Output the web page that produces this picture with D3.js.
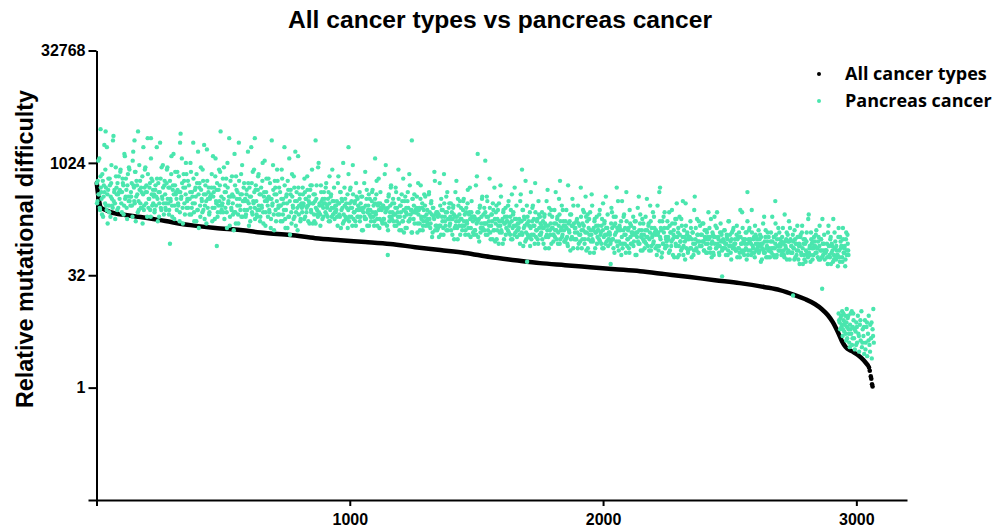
<!DOCTYPE html>
<html>
<head>
<meta charset="utf-8">
<script src="https://cdn.jsdelivr.net/npm/d3@7"></script>
<style>
  body { margin: 0; background: #fff; }
  .chart text { font-family: "Liberation Sans", Arial, sans-serif; font-weight: bold; fill: #000; }
  .axis path, .axis line { stroke: #000; stroke-width: 2px; }
  .axis text { font-size: 16px; }
</style>
</head>
<body>
<div class="chart"></div>
<script>
// all cancer types: rank -> log2(relative mutational difficulty)
var allRanks = [1,4,8,12,16,36,55,114,174,272,371,469,568,667,765,864,963,1061,1160,1258,1357,1456,1554,1653,1751,1850,1949,2047,2146,2245,2343,2442,2540,2639,2698,2757,2797,2836,2864,2887,2907,2927,2943,2958,2982,3006,3029,3045];
var allLog2 = [9.1,8.8,8.45,8.2,8.03,7.9,7.81,7.68,7.59,7.41,7.23,7.1,7.01,6.88,6.79,6.65,6.56,6.48,6.39,6.25,6.12,5.99,5.81,5.67,5.54,5.45,5.36,5.27,5.18,5.05,4.92,4.78,4.65,4.47,4.34,4.12,3.94,3.72,3.49,3.23,2.91,2.47,2.07,1.8,1.62,1.45,1.22,1.0];
var allTail = [[3050,0.9],[3053,0.75],[3057,0.5],[3059,0.4],[3062,0.15],[3064,0.05]];

// pancreas cancer (log2 values), every third rank: one list from rank 1, one from rank 2
var pancreasEvery = 3;
var pancreasFromRank1 = [
9.1,8.3,10.1,8.6,8.0,9.4,8.7,7.7,9.2,8.5,10.8,8.2,8.9,7.9,8.6,
8.8,8.1,9.3,7.6,9.1,8.4,8.0,11.2,8.7,8.2,9.8,8.9,7.9,8.6,9.4,
8.4,9.6,8.7,7.8,9.3,9.0,8.1,10.3,8.5,8.8,7.5,9.5,8.3,9.7,8.5,
8.7,9.1,7.6,10.5,8.9,8.2,9.6,8.5,9.0,7.8,8.3,9.9,9.2,8.0,8.7,
9.4,8.6,7.9,8.9,9.8,8.2,8.7,11.1,8.0,8.4,9.1,7.6,9.3,8.1,8.8,
8.5,7.8,8.8,8.1,10.7,8.4,9.1,7.6,8.7,9.3,7.9,8.5,9.9,8.2,9.0,
8.6,7.9,9.1,9.8,8.2,7.7,8.9,8.4,9.5,8.1,8.8,10.4,7.5,9.0,8.6,
8.4,9.6,8.2,9.4,7.4,8.7,8.4,10.2,8.0,8.9,9.2,7.7,8.6,9.5,8.3,
9.2,8.4,7.7,8.7,9.6,8.0,8.5,10.9,7.8,8.2,8.9,7.4,9.1,7.9,8.6,
8.9,8.1,9.8,8.4,7.8,9.2,8.6,7.5,9.0,8.3,10.6,8.0,8.7,7.7,8.4,
8.5,8.9,7.4,10.3,8.7,8.0,9.4,8.3,8.8,7.6,8.1,9.7,9.0,7.8,8.5,
8.1,9.3,8.4,7.5,9.0,8.7,7.8,10.0,8.2,8.5,7.2,9.2,8.0,9.4,8.2,
8.5,7.8,9.0,7.3,8.8,8.1,7.7,10.9,8.4,7.9,9.5,8.6,7.6,8.3,9.1,
8.3,7.6,8.6,7.9,10.5,8.2,8.9,7.4,8.5,9.1,7.7,8.3,9.7,8.0,8.8,
8.3,7.6,8.8,9.5,7.9,7.4,8.6,8.1,9.2,7.8,8.5,10.1,7.2,8.7,8.3,
8.1,9.3,7.9,9.1,7.1,8.4,8.1,9.9,7.7,8.6,8.9,7.4,8.3,9.2,8.0,
8.9,8.1,7.4,8.4,9.3,7.7,8.2,10.7,7.5,7.9,8.6,7.1,8.8,7.6,8.3,
8.6,7.8,9.5,8.1,7.5,8.9,8.3,7.2,8.7,8.0,10.3,7.7,8.4,7.4,8.1,
8.0,8.9,8.2,7.5,8.7,8.4,7.8,9.4,8.1,8.3,7.3,8.8,7.9,9.0,8.2,
8.2,7.7,8.6,7.3,8.4,7.9,7.6,10.0,8.1,7.7,9.0,8.3,7.5,8.0,8.7,
8.4,7.8,9.1,8.0,7.6,8.7,8.2,7.4,8.5,8.0,9.7,7.7,8.3,7.5,8.1,
8.1,8.3,7.2,9.4,8.2,7.6,8.7,7.9,8.3,7.3,7.7,8.9,8.4,7.5,8.0,
8.6,7.9,7.4,8.2,8.9,7.6,8.0,9.9,7.5,7.8,8.3,7.2,8.5,7.6,8.1,
7.9,8.7,7.6,8.5,7.0,8.0,7.8,9.1,7.5,8.1,8.4,7.2,7.9,8.6,7.7,
7.9,7.4,8.3,8.8,7.6,7.2,8.2,7.8,8.6,7.5,8.1,9.3,7.1,8.2,8.0,
7.9,7.3,8.1,7.5,9.5,7.8,8.3,7.2,8.0,8.5,7.4,7.8,8.9,7.6,8.2,
8.4,7.7,7.2,8.0,8.7,7.4,7.8,9.7,7.3,7.6,8.1,7.0,8.3,7.4,7.9,
7.6,8.5,7.8,7.1,8.3,8.0,7.4,9.0,7.7,7.9,6.9,8.4,7.5,8.6,7.8,
7.8,8.0,6.9,9.1,7.9,7.3,8.4,7.6,8.0,7.0,7.4,8.6,8.1,7.2,7.7,
7.9,7.3,8.6,7.5,7.1,8.2,7.7,6.9,8.0,7.5,9.2,7.2,7.8,7.0,7.6,
7.7,7.2,8.1,6.8,7.9,7.4,7.1,9.5,7.6,7.2,8.5,7.8,7.0,7.5,8.2,
7.3,8.2,7.5,6.8,8.0,7.7,7.1,8.7,7.4,7.6,6.6,8.1,7.2,8.3,7.5,
7.5,7.0,7.9,8.4,7.2,6.8,7.8,7.4,8.2,7.1,7.7,8.9,6.7,7.8,7.6,
7.4,6.8,7.6,7.0,9.0,7.3,7.8,6.7,7.5,8.0,6.9,7.3,8.4,7.1,7.7,
8.0,7.3,6.8,7.6,8.3,7.0,7.4,9.3,6.9,7.2,7.7,6.6,7.9,7.0,7.5,
7.3,8.1,7.0,7.9,6.4,7.4,7.2,8.5,6.9,7.5,7.8,6.6,7.3,8.0,7.1,
7.6,7.0,8.3,7.2,6.8,7.9,7.4,6.6,7.7,7.2,8.9,6.9,7.5,6.7,7.3,
7.3,7.5,6.4,8.6,7.4,6.8,7.9,7.1,7.5,6.5,6.9,8.1,7.6,6.7,7.2,
7.8,7.1,6.6,7.4,8.1,6.8,7.2,9.1,6.7,7.0,7.5,6.4,7.7,6.8,7.3,
6.9,7.8,7.1,6.4,7.6,7.3,6.7,8.3,7.0,7.2,6.2,7.7,6.8,7.9,7.1,
7.1,6.5,7.3,6.7,8.7,7.0,7.5,6.4,7.2,7.7,6.6,7.0,8.1,6.8,7.4,
7.0,6.5,7.4,7.9,6.7,6.3,7.3,6.9,7.7,6.6,7.2,8.4,6.2,7.3,7.1,
7.1,6.6,7.5,6.2,7.3,6.8,6.5,8.9,7.0,6.6,7.9,7.2,6.4,6.9,7.6,
6.9,7.7,6.6,7.5,6.0,7.0,6.8,8.1,6.5,7.1,7.4,6.2,6.9,7.6,6.7,
7.2,6.6,7.9,6.8,6.4,7.5,7.0,6.2,7.3,6.8,8.5,6.5,7.1,6.3,6.9,
6.9,6.4,7.3,7.8,6.6,6.2,7.2,6.8,7.6,6.5,7.1,8.3,6.1,7.2,7.0,
7.4,6.7,6.2,7.0,7.7,6.4,6.8,8.7,6.3,6.6,7.1,6.0,7.3,6.4,6.9,
6.8,7.6,6.5,7.4,5.9,6.9,6.7,8.0,6.4,7.0,7.3,6.1,6.8,7.5,6.6,
6.8,6.2,7.0,6.4,8.4,6.7,7.2,6.1,6.9,7.4,6.3,6.7,7.8,6.5,7.1,
6.8,7.0,5.9,8.1,6.9,6.3,7.4,6.6,7.0,6.0,6.4,7.6,7.1,6.2,6.7,
6.5,7.4,6.7,6.0,7.2,6.9,6.3,7.9,6.6,6.8,5.8,7.3,6.4,7.5,6.7,
6.9,6.3,7.6,6.5,6.1,7.2,6.7,5.9,7.0,6.5,8.2,6.2,6.8,6.0,6.6,
6.7,6.2,7.1,5.8,6.9,6.4,6.1,8.5,6.6,6.2,7.5,6.8,6.0,6.5,7.2,
6.8,6.3,7.3,6.5,6.1,7.0,6.6,6.0,6.9,6.4,7.8,6.2,6.7,6.0,6.4,
6.5,6.8,5.9,7.6,6.7,6.2,7.1,6.4,6.7,6.0,6.3,7.3,6.9,6.1,6.5,
6.2,7.0,6.4,5.9,6.8,6.6,6.1,7.4,6.3,6.5,5.7,6.9,6.2,7.1,6.4,
6.6,6.1,6.8,5.8,6.7,6.2,6.0,7.9,6.4,6.1,7.1,6.6,5.9,6.4,6.9,
6.9,6.4,5.9,6.6,7.1,6.1,6.4,7.9,6.0,6.2,6.7,5.8,6.8,6.1,6.6,
6.3,7.0,6.1,6.8,5.6,6.4,6.2,7.3,6.0,6.5,6.7,5.8,6.3,6.9,6.1,
6.2,5.8,6.5,6.0,7.6,6.2,6.7,5.8,6.4,6.8,5.9,6.3,7.1,6.1,6.6,
6.3,5.9,6.7,7.1,6.1,5.8,6.5,6.2,6.9,6.0,6.5,7.4,5.7,6.6,6.3,
6.0,6.8,6.2,5.7,6.6,6.4,5.9,7.2,6.1,6.3,5.5,6.7,6.0,6.9,6.2,
6.4,5.9,6.6,5.6,6.5,6.0,5.8,7.7,6.2,5.9,6.9,6.4,5.7,6.2,6.7,
6.5,6.0,7.0,6.2,5.8,6.7,6.3,5.7,6.6,6.1,7.5,5.9,6.4,5.7,6.1,
6.1,6.4,5.5,7.2,6.3,5.8,6.7,6.0,6.3,5.6,5.9,6.9,6.5,5.7,6.1,
5.9,6.7,6.1,5.6,6.5,6.3,5.8,7.1,6.0,6.2,5.4,6.6,5.9,6.8,6.1
];
var pancreasFromRank2 = [
8.2,9.2,8.6,10.2,7.9,8.9,8.4,9.5,7.6,9.0,8.7,9.7,8.1,10.7,7.3,
9.3,7.8,9.0,8.5,9.9,8.1,11.0,8.3,8.8,7.5,9.4,8.6,9.1,8.0,8.7,
8.8,9.7,8.2,8.7,9.1,7.7,10.4,8.4,9.3,8.0,9.0,8.5,9.8,8.3,8.1,
8.5,8.1,10.1,9.0,8.3,9.6,7.4,9.2,8.6,11.4,7.9,8.8,8.2,8.9,8.0,
7.3,10.7,8.1,9.7,8.7,9.0,7.6,9.5,8.4,8.9,7.9,10.2,8.6,9.2,8.2,
8.6,7.9,9.0,8.5,9.3,7.4,8.7,8.2,10.9,8.0,9.8,8.4,8.9,7.7,9.2,
8.0,8.2,9.7,8.4,8.9,7.9,9.2,8.3,10.3,7.6,9.0,8.6,8.1,9.6,8.7,
7.9,8.8,8.1,8.7,7.8,11.3,8.5,9.1,7.3,9.5,8.2,8.9,10.0,8.0,8.4,
8.0,9.0,8.4,10.0,7.7,8.7,8.2,9.3,7.4,8.8,8.5,9.5,7.9,10.5,7.1,
9.1,7.6,8.8,8.3,9.7,7.9,10.8,8.1,8.6,7.3,9.2,8.4,8.9,7.8,8.5,
8.6,9.5,8.0,8.5,8.9,7.5,10.2,8.2,9.1,7.8,8.8,8.3,9.6,8.1,7.9,
8.2,7.8,9.8,8.7,8.0,9.3,7.1,8.9,8.3,11.1,7.6,8.5,7.9,8.6,7.7,
7.0,10.4,7.8,9.4,8.4,8.7,7.3,9.2,8.1,8.6,7.6,9.9,8.3,8.9,7.9,
8.4,7.7,8.8,8.3,9.1,7.2,8.5,8.0,10.7,7.8,9.6,8.2,8.7,7.5,9.0,
7.7,7.9,9.4,8.1,8.6,7.6,8.9,8.0,10.0,7.3,8.7,8.3,7.8,9.3,8.4,
7.6,8.5,7.8,8.4,7.5,11.0,8.2,8.8,7.0,9.2,7.9,8.6,9.7,7.7,8.1,
7.7,8.7,8.1,9.7,7.4,8.4,7.9,9.0,7.1,8.5,8.2,9.2,7.6,10.2,6.8,
8.8,7.3,8.5,8.0,9.4,7.6,10.5,7.8,8.3,7.0,8.9,8.1,8.6,7.5,8.2,
7.8,8.6,8.1,9.3,7.6,8.4,8.0,8.8,7.4,8.5,8.2,9.0,7.8,9.7,7.3,
8.6,7.4,8.3,8.0,9.0,7.7,9.8,7.8,8.2,7.2,8.7,8.1,8.4,7.6,8.2,
8.2,8.9,7.7,8.1,8.4,7.4,9.4,7.9,8.6,7.6,8.3,8.0,8.9,7.8,7.8,
7.9,7.6,9.1,8.2,7.7,8.7,7.1,8.4,8.0,10.0,7.4,8.1,7.6,8.2,7.5,
7.1,9.5,7.6,8.8,8.0,8.3,7.2,8.6,7.8,8.2,7.4,9.1,7.9,8.4,7.6,
8.0,7.4,8.2,7.9,8.5,7.0,8.0,7.6,9.6,7.5,8.8,7.8,8.1,7.2,8.4,
7.6,7.6,8.7,7.8,8.1,7.4,8.4,7.7,9.2,7.2,8.2,7.9,7.5,8.7,8.0,
7.4,8.1,7.5,8.0,7.3,9.9,7.9,8.3,7.0,8.6,7.6,8.1,9.0,7.5,7.8,
7.4,8.2,7.7,8.9,7.2,8.0,7.6,8.4,7.0,8.1,7.8,8.6,7.4,9.3,6.9,
8.3,7.1,8.0,7.7,8.7,7.4,9.5,7.5,7.9,6.9,8.4,7.8,8.1,7.3,7.9,
7.8,8.5,7.3,7.7,8.0,7.0,9.0,7.5,8.2,7.2,7.9,7.6,8.5,7.4,7.4,
7.5,7.2,8.7,7.8,7.3,8.3,6.7,8.0,7.6,9.6,7.0,7.7,7.2,7.8,7.1,
6.7,9.1,7.2,8.4,7.6,7.9,6.8,8.2,7.4,7.8,7.0,8.7,7.5,8.0,7.2,
7.6,7.0,7.8,7.5,8.1,6.6,7.6,7.2,9.2,7.1,8.4,7.4,7.7,6.8,8.0,
7.2,7.2,8.3,7.4,7.7,7.0,8.0,7.3,8.8,6.8,7.8,7.5,7.1,8.3,7.6,
6.9,7.6,7.0,7.5,6.8,9.4,7.4,7.8,6.5,8.1,7.1,7.6,8.5,7.0,7.3,
7.0,7.8,7.3,8.5,6.8,7.6,7.2,8.0,6.6,7.7,7.4,8.2,7.0,8.9,6.5,
7.8,6.6,7.5,7.2,8.2,6.9,9.0,7.0,7.4,6.4,7.9,7.3,7.6,6.8,7.4,
7.4,8.1,6.9,7.3,7.6,6.6,8.6,7.1,7.8,6.8,7.5,7.2,8.1,7.0,7.0,
7.1,6.8,8.3,7.4,6.9,7.9,6.3,7.6,7.2,9.2,6.6,7.3,6.8,7.4,6.7,
6.3,8.7,6.8,8.0,7.2,7.5,6.4,7.8,7.0,7.4,6.6,8.3,7.1,7.6,6.8,
7.2,6.6,7.4,7.1,7.7,6.2,7.2,6.8,8.8,6.7,8.0,7.0,7.3,6.4,7.6,
6.8,6.8,7.9,7.0,7.3,6.6,7.6,6.9,8.4,6.4,7.4,7.1,6.7,7.9,7.2,
6.5,7.2,6.6,7.1,6.4,9.0,7.0,7.4,6.1,7.7,6.7,7.2,8.1,6.6,6.9,
6.6,7.4,6.9,8.1,6.4,7.2,6.8,7.6,6.2,7.3,7.0,7.8,6.6,8.5,6.1,
7.4,6.2,7.1,6.8,7.8,6.5,8.6,6.6,7.0,6.0,7.5,6.9,7.2,6.4,7.0,
7.0,7.7,6.5,6.9,7.2,6.2,8.2,6.7,7.4,6.4,7.1,6.8,7.7,6.6,6.6,
6.8,6.5,8.0,7.1,6.6,7.6,6.0,7.3,6.9,8.9,6.3,7.0,6.5,7.1,6.4,
5.9,8.3,6.4,7.6,6.8,7.1,6.0,7.4,6.6,7.0,6.2,7.9,6.7,7.2,6.4,
6.9,6.3,7.1,6.8,7.4,5.9,6.9,6.5,8.5,6.4,7.7,6.7,7.0,6.1,7.3,
6.5,6.5,7.6,6.7,7.0,6.3,7.3,6.6,8.1,6.1,7.1,6.8,6.4,7.6,6.9,
6.2,6.9,6.3,6.8,6.1,8.7,6.7,7.1,5.8,7.4,6.4,6.9,7.8,6.3,6.6,
6.3,7.1,6.6,7.8,6.1,6.9,6.5,7.3,5.9,7.0,6.7,7.5,6.3,8.2,5.8,
7.1,5.9,6.8,6.5,7.5,6.2,8.3,6.3,6.7,5.7,7.2,6.6,6.9,6.1,6.7,
6.7,7.4,6.2,6.6,6.9,5.9,7.9,6.4,7.1,6.1,6.8,6.5,7.4,6.3,6.3,
6.3,6.8,6.5,7.3,6.1,6.7,6.4,7.0,6.0,6.7,6.6,7.1,6.2,7.5,5.8,
6.9,6.0,6.7,6.4,7.2,6.2,7.8,6.3,6.6,5.9,6.9,6.5,6.8,6.2,6.6,
6.5,7.0,6.2,6.4,6.7,5.9,7.4,6.3,6.8,6.0,6.6,6.3,7.0,6.2,6.2,
6.4,6.1,7.2,6.6,6.2,6.9,5.8,6.7,6.4,7.8,6.0,6.5,6.1,6.6,6.2,
5.7,7.4,6.1,7.0,6.5,6.6,5.9,6.9,6.3,6.6,6.0,7.2,6.4,6.7,6.2,
6.4,6.0,6.6,6.3,6.7,5.7,6.4,6.1,7.6,6.0,7.0,6.2,6.5,5.8,6.7,
6.1,6.1,6.9,6.2,6.5,5.9,6.7,6.2,7.3,5.8,6.6,6.3,6.1,6.9,6.4,
6.1,6.5,6.0,6.4,5.9,7.7,6.3,6.6,5.7,6.8,6.1,6.5,7.1,6.0,6.3,
6.0,6.5,6.2,7.0,5.8,6.4,6.1,6.7,5.7,6.4,6.3,6.8,5.9,7.2,5.5,
6.6,5.7,6.4,6.1,6.9,5.9,7.5,6.0,6.3,5.6,6.6,6.2,6.5,5.9,6.3,
6.3,6.8,6.0,6.2,6.5,5.7,7.2,6.1,6.6,5.8,6.4,6.1,6.8,6.0,6.0,
6.1,5.8,6.9,6.3,5.9,6.6,5.5,6.4,6.1,7.5,5.7,6.2,5.8,6.3,5.9,
5.4,7.1,5.8,6.7,6.2,6.3,5.6,6.6,6.0,6.3,5.7,6.9,6.1,6.4,5.9
];
// pancreas points far from the main band: [rank, log2]
var pancreasOutliers = [[16,11.5],[36,11.4],[150,11.0],[215,11.1],[330,10.9],[490,11.4],[625,11.1],[865,11.0],[995,10.7],[1100,10.2],[1245,11.0],[1505,10.4],[1535,10.1],[1680,9.7],[1830,9.2],[2225,8.9],[2570,8.7],[2680,8.3],
  [290,6.4],[475,6.3],[1150,5.9],[1700,5.6],[2030,5.5],[2470,4.95],[2750,4.1],[2865,4.4]];
// pancreas cluster at the low end of the ranking: [rank, log2]
var pancreasTail = [[2930,3.3],[2932,3.0],[2934,2.9],[2936,2.6],[2938,3.1],[2940,3.2],[2941,2.7],[2943,2.8],[2944,3.4],[2946,2.3],[2947,2.6],[2949,3.3],[2950,3.0],[2952,2.5],[2953,2.8],[2955,2.9],[2956,3.2],[2958,2.4],[2960,2.1],[2961,2.9],[2962,3.5],[2963,2.7],[2964,2.2],[2966,3.1],[2968,3.2],[2969,2.6],[2971,2.4],[2972,2.0],[2974,1.8],[2975,2.8],[2977,2.6],[2978,3.3],[2980,2.4],[2982,3.4],[2983,1.9],[2985,2.2],[2986,2.7],[2988,3.3],[2989,3.0],[2991,2.2],[2993,2.6],[2994,1.7],[2997,2.5],[2999,1.9],[3000,2.9],[3002,2.7],[3003,2.0],[3006,3.2],[3008,2.4],[3010,2.3],[3011,1.6],[3014,2.8],[3016,3.0],[3017,2.1],[3020,3.4],[3022,1.8],[3024,2.0],[3025,2.6],[3028,2.3],[3030,2.7],[3031,1.5],[3034,3.0],[3036,1.7],[3037,2.0],[3040,2.7],[3042,2.9],[3043,1.4],[3046,2.4],[3048,2.1],[3049,3.2],[3052,1.9],[3054,1.6],[3055,2.8],[3058,2.2],[3060,2.9],[3061,1.3],[3064,2.6],[3066,2.3],[3067,3.5],[3069,2.0]];

var xTicks = [0, 1000, 2000, 3000];
var xTickLabels = ["", "1000", "2000", "3000"];
var yTicks = [-5, 0, 5, 10, 15];
var yTickLabels = ["", "1", "32", "1024", "32768"];

var green = "#4ae6ae";

var svg = d3.select(".chart")
            .append("svg")
            .attr("width", 997)
            .attr("height", 531);

var x = d3.scaleLinear().domain([0, 3200]).range([96.5, 907]);
var y = d3.scaleLog().base(2).domain([Math.pow(2, -5), Math.pow(2, 15)]).range([500, 50.5]);

svg.append("g")
    .attr("class", "axis")
    .attr("transform", "translate(0,500)")
    .call(d3.axisBottom(x).tickValues(xTicks).tickSize(6).tickSizeOuter(0).tickPadding(8)
        .tickFormat(function(d, i) { return xTickLabels[i]; }));

svg.append("g")
    .attr("class", "axis")
    .attr("transform", "translate(96.5,0)")
    .call(d3.axisLeft(y).tickValues(yTicks.map(function(k) { return Math.pow(2, k); }))
        .tickSize(8).tickSizeOuter(0).tickPadding(3)
        .tickFormat(function(d, i) { return yTickLabels[i]; }));

// all cancer types
var allPoints = allRanks.map(function(r, i) { return [r, allLog2[i]]; });
svg.append("path")
    .datum(allPoints)
    .attr("fill", "none")
    .attr("stroke", "#000")
    .attr("stroke-width", 4.5)
    .attr("stroke-linecap", "round")
    .attr("d", d3.line()
        .curve(d3.curveMonotoneX)
        .x(function(d) { return x(d[0]); })
        .y(function(d) { return y(Math.pow(2, d[1])); }));

svg.selectAll("circle.tail")
    .data(allTail)
  .enter()
    .append("circle")
    .attr("class", "tail")
    .attr("cx", function(d) { return x(d[0]); })
    .attr("cy", function(d) { return y(Math.pow(2, d[1])); })
    .attr("r", 2.3)
    .style("fill", "#000");

// pancreas cancer
var pancreasPoints = pancreasFromRank1.map(function(v, i) { return [1 + i * pancreasEvery, v]; })
    .concat(pancreasFromRank2.map(function(v, i) { return [2 + i * pancreasEvery, v]; }))
    .concat(pancreasOutliers, pancreasTail);

svg.selectAll("circle.panc")
    .data(pancreasPoints)
  .enter()
    .append("circle")
    .attr("class", "panc")
    .attr("cx", function(d) { return x(d[0]); })
    .attr("cy", function(d) { return y(Math.pow(2, d[1])); })
    .attr("r", 2.2)
    .style("fill", green);

// title and y label
svg.append("text")
    .attr("x", 500)
    .attr("y", 28)
    .attr("text-anchor", "middle")
    .attr("textLength", 424)
    .attr("lengthAdjust", "spacingAndGlyphs")
    .style("font-size", "23px")
    .text("All cancer types vs pancreas cancer");

svg.append("text")
    .attr("transform", "translate(33,249) rotate(-90)")
    .attr("text-anchor", "middle")
    .attr("textLength", 318)
    .attr("lengthAdjust", "spacingAndGlyphs")
    .style("font-size", "23px")
    .text("Relative mutational difficulty");

// legend
var legendNames = ["All cancer types", "Pancreas cancer"];
var legendColors = ["#000", green];
var legend = svg.selectAll("g.legend")
    .data(legendNames)
  .enter()
    .append("g")
    .attr("class", "legend")
    .attr("transform", function(d, i) { return "translate(819," + (74 + i * 27) + ")"; });

legend.append("circle")
    .attr("r", 2)
    .style("fill", function(d, i) { return legendColors[i]; });

legend.append("text")
    .attr("x", 26)
    .attr("y", 6)
    .style("font-family", "'Open Sans', sans-serif")
    .style("font-size", "18px")
    .text(function(d) { return d; });
</script>
</body>
</html>
